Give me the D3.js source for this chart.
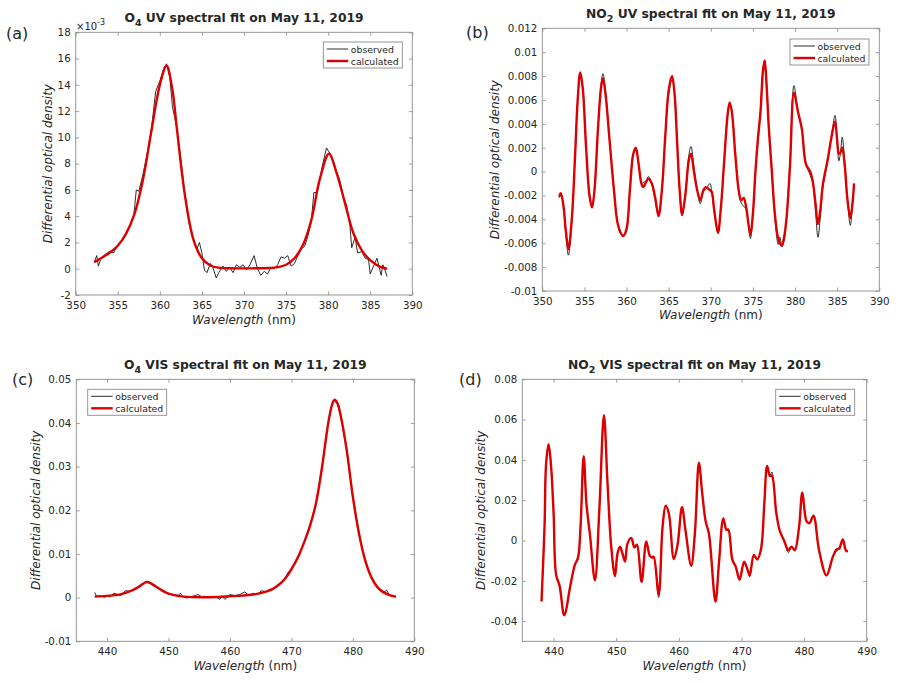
<!DOCTYPE html>
<html>
<head>
<meta charset="utf-8">
<script src="https://cdn.jsdelivr.net/npm/d3@7"></script>
<style>
  body { margin: 0; background: #fff; }
  svg text { font-family: "DejaVu Sans", sans-serif; fill: #262626; }
</style>
</head>
<body>
<svg id="fig" width="898" height="684"></svg>
<script>
// ---- (a) O4 UV, values in units of 1e-3 ----
const o4uvObsWl = [352.2,352.5,352.7,353.0,353.5,354.0,354.5,355.0,355.5,356.0,356.5,356.9,357.2,357.5,358.0,358.5,359.0,359.5,360.0,360.5,360.8,361.2,361.5,362.0,362.5,363.0,363.5,364.0,364.4,364.7,365.0,365.3,365.6,366.0,366.3,366.7,367.0,367.5,367.9,368.3,368.7,369.1,369.5,369.9,370.3,370.7,371.2,371.6,372.0,372.4,372.8,373.2,373.6,374.0,374.4,374.8,375.2,375.6,376.0,376.4,376.8,377.2,377.6,378.0,378.3,378.7,379.0,379.4,379.8,380.2,380.6,381.0,381.4,381.8,382.2,382.6,382.8,383.2,383.5,384.0,384.4,384.8,385.0,385.4,385.8,386.3,386.5,386.7,387.0];
const o4uvObs   = [0.5,1.0,0.2,0.8,1.1,1.3,1.2,1.8,2.1,2.6,3.3,4.0,6.0,5.9,7.2,8.8,10.6,13.5,14.3,15.3,15.6,14.5,12.3,10.8,8.3,5.5,3.4,2.2,1.5,2.0,1.2,-0.1,-0.3,0.4,0.1,-0.7,-0.3,0.2,-0.2,0.1,-0.3,0.3,0.1,0.3,-0.1,0.3,1.0,0.0,-0.5,-0.2,-0.4,0.1,0.0,0.3,0.9,0.8,1.0,0.2,0.4,1.0,1.5,1.7,2.5,3.6,5.8,5.8,6.8,8.1,9.2,8.8,8.1,7.4,6.7,5.5,4.8,3.2,1.6,2.4,1.2,1.3,0.8,0.7,-0.4,0.2,0.8,-0.5,0.3,0.0,-0.6];
const o4uvCalcWl = [352.2,353,354,355,356,357,358,359,360,360.8,361.5,362,363,364,365,366,367,369,371,373,374,375,376,377,378,379,380.1,381,382,383,384,385,386,387];
const o4uvCalc   = [0.5,0.8,1.2,1.75,2.7,4.2,6.8,10.5,14.0,15.45,13.6,10.8,5.5,2.2,0.8,0.25,0.08,0.03,0.03,0.06,0.12,0.3,0.8,1.8,3.7,6.8,8.75,7.3,5.0,2.7,1.4,0.65,0.2,0.0];

// ---- (b) NO2 UV, values in units of 1e-3 ----
const no2uvCalcWl = [352.0,352.2,352.5,352.8,353.1,353.5,353.9,354.2,354.5,354.8,355.2,355.6,355.9,356.2,356.6,357.0,357.2,357.5,358.0,358.5,359.0,359.6,360.0,360.4,360.8,361.1,361.4,361.8,362.0,362.3,362.6,363.0,363.4,363.8,364.2,364.6,365.0,365.4,365.7,366.0,366.3,366.6,367.0,367.4,367.65,368.0,368.4,368.75,369.1,369.4,369.8,370.1,370.4,370.85,371.2,371.6,372.0,372.24,372.5,372.9,373.3,373.6,373.9,374.2,374.7,375.0,375.3,375.6,375.9,376.2,376.4,376.6,376.9,377.2,377.6,378.0,378.4,378.7,379.0,379.4,379.87,380.35,380.8,381.3,381.8,382.1,382.4,382.72,383.0,383.3,383.9,384.3,384.75,385.0,385.2,385.4,385.6,385.9,386.2,386.56,386.8,387.0];
const no2uvCalc   = [-2.1,-1.8,-2.8,-5.0,-6.5,-4.0,1.5,6.0,8.3,7.0,2.0,-2.0,-3.0,-1.5,3.5,7.2,7.8,6.5,2.5,-1.5,-4.5,-5.4,-4.8,-1.5,1.5,2.0,0.8,-1.1,-1.3,-0.9,-0.6,-1.0,-2.2,-3.7,-1.5,3.0,6.8,8.0,6.5,2.5,-1.5,-3.6,-1.8,1.0,1.5,0.0,-1.6,-2.4,-1.6,-1.3,-1.5,-1.7,-3.2,-5.1,-3.0,1.0,4.8,5.8,5.0,1.5,-1.5,-2.4,-2.2,-3.0,-5.3,-3.5,0.0,2.8,5.0,8.5,9.3,7.5,3.5,0.5,-3.5,-5.6,-6.2,-5.5,-3.8,0.5,6.6,5.0,3.6,0.6,0.0,-0.8,-2.5,-4.4,-3.2,-1.1,1.1,2.8,4.2,2.6,1.5,1.6,2.0,0.5,-2.2,-3.9,-2.8,-1.0];
const no2uvObsWl = [352.0,352.2,352.5,352.8,353.1,353.5,353.9,354.2,354.5,354.8,355.2,355.6,355.9,356.2,356.6,357.0,357.2,357.5,358.0,358.5,359.0,359.3,359.7,360.0,360.4,360.8,361.1,361.4,361.8,362.0,362.3,362.6,363.0,363.4,363.8,364.2,364.6,365.0,365.4,365.7,366.0,366.3,366.6,367.0,367.4,367.65,368.0,368.4,368.75,369.1,369.4,369.9,370.1,370.4,370.85,371.2,371.6,372.0,372.24,372.5,372.9,373.3,373.6,373.9,374.2,374.7,375.0,375.3,375.6,375.9,376.2,376.4,376.6,376.9,377.2,377.6,378.0,378.2,378.45,378.7,379.0,379.4,379.87,380.35,380.8,381.3,381.8,382.1,382.4,382.72,383.0,383.3,383.9,384.3,384.75,385.0,385.2,385.4,385.6,385.9,386.2,386.56,386.8,387.0];
const no2uvObs   = [-2.2,-1.9,-3.0,-5.3,-7.0,-4.2,1.4,6.0,8.2,7.0,2.0,-2.0,-3.0,-1.5,3.5,7.5,8.2,6.8,2.5,-1.5,-4.6,-5.2,-5.3,-4.9,-1.6,1.5,2.0,0.8,-1.0,-0.9,-0.8,-0.4,-1.1,-2.4,-3.8,-1.5,3.0,6.5,7.7,6.6,2.5,-1.6,-3.7,-1.8,1.4,2.1,0.4,-1.6,-2.7,-1.7,-1.5,-1.0,-1.6,-3.3,-5.2,-3.0,1.0,4.8,5.7,5.0,1.5,-1.6,-2.6,-2.9,-3.2,-5.6,-3.5,0.0,2.5,5.2,8.7,9.3,7.6,3.5,0.3,-3.8,-6.1,-5.5,-6.3,-5.8,-3.8,0.8,7.2,5.0,3.6,0.6,-0.3,-1.0,-3.0,-5.5,-3.8,-1.3,1.0,2.9,4.7,2.4,0.9,1.6,2.9,0.8,-2.2,-4.5,-2.9,-1.0];

// ---- (c) O4 VIS ----
const o4visCalcWl = [438,440,442,444,445,446,446.5,447,448,449,450,452,455,458,460,462,464,466,467,468,469,470,471,472,473,474,475,476,476.6,477,477.5,478,479,480,481,482,483,484,485,486,487];
const o4visCalc   = [0.00023,0.0004,0.0007,0.0016,0.0023,0.0033,0.0036,0.0034,0.0025,0.0016,0.0009,0.0003,0.0001,0.00015,0.0003,0.00045,0.00075,0.00145,0.002,0.003,0.0044,0.0065,0.009,0.0124,0.0163,0.0216,0.030,0.040,0.0441,0.0453,0.0445,0.0418,0.0338,0.0231,0.0147,0.0086,0.0047,0.0024,0.0012,0.0006,0.0002];
const o4visObsWl = [438.0,438.3,438.8,439.6,440.2,440.4,441.1,441.8,442.3,443.0,443.7,444.3,445.0,445.9,446.4,447.1,447.8,448.85,449.2,449.9,450.75,451.6,451.9,452.4,452.9,453.7,454.8,455.2,455.6,456.7,457.8,458.35,458.6,459.2,460.0,460.8,461.6,462.4,463.0,463.8,464.6,465.1,466.0,467,468,469,469.5,470,471,472,473,474,475,476,476.6,477,477.5,478,479,480,481,481.5,482,482.4,483,484,484.5,485,485.5,486,486.4,487];
const o4visObs   = [0.0012,0.0003,0.0004,0.0001,0.0005,0.0001,0.0010,0.0007,0.0005,0.0016,0.0014,0.0019,0.0025,0.0031,0.0036,0.0031,0.0025,0.00175,0.0016,0.0010,0.0007,0.0005,0.0010,0.0002,-0.0001,0.0002,0.0007,0.0004,0.0000,0.0002,0.0001,-0.0004,0.0004,-0.0004,0.0007,0.0005,0.0007,0.0013,0.0006,0.0010,0.0008,0.0016,0.0013,0.0021,0.0029,0.0046,0.0058,0.0066,0.0093,0.0122,0.0166,0.0214,0.0302,0.040,0.0442,0.0452,0.0443,0.0418,0.0337,0.0232,0.0149,0.0110,0.0088,0.0068,0.0046,0.0023,0.0015,0.0012,0.0017,0.0005,0.0003,0.0002];

// ---- (d) NO2 VIS ----
const no2visCalcWl = [438.07,438.55,438.8,439.2,439.6,440.0,440.4,440.96,441.7,442.7,443.4,443.9,444.3,444.8,445.25,445.8,446.6,447.3,448.04,448.6,449.2,449.8,450.2,450.6,451.0,451.4,451.8,452.4,452.9,453.3,454.05,454.8,455.35,455.7,455.97,456.78,457.4,457.9,458.4,459.2,459.8,460.5,461.06,461.97,462.56,463.2,463.74,464.28,464.8,465.85,466.4,467.1,467.6,467.9,468.55,469.1,469.7,470.42,471.0,471.32,471.98,472.5,473.1,473.65,474.1,474.55,474.85,475.55,476.1,476.8,477.5,477.97,478.5,479.2,479.72,480.4,480.85,481.5,482.4,483.58,484.6,485.2,485.6,486.18,486.7,487.0];
const no2visCalc   = [-0.0301,0.0068,0.0380,0.0478,0.0366,0.0134,-0.0170,-0.0225,-0.0370,-0.0219,-0.0120,-0.0085,0.0068,0.0419,0.0180,0.0030,-0.0197,0.0150,0.0622,0.0290,-0.0030,-0.0176,-0.0065,-0.0030,-0.0065,-0.0104,-0.0015,0.0013,-0.0034,-0.0021,-0.0205,-0.0004,-0.0075,-0.0085,-0.0080,-0.0267,0.0068,0.0173,0.0134,-0.0092,-0.0020,0.0166,0.0051,-0.0125,0.0035,0.0386,0.0233,0.0095,0.0035,-0.0303,-0.0114,0.0109,0.0053,0.0055,-0.0096,-0.0131,-0.0194,-0.0105,-0.0147,-0.0173,-0.0071,-0.0094,-0.0046,0.0184,0.0370,0.0320,0.0322,0.0140,0.0050,0.0000,-0.0048,-0.0030,-0.0048,0.0068,0.0238,0.0095,0.0086,0.0123,-0.0050,-0.0173,-0.0080,-0.0044,-0.0040,0.0005,-0.0050,-0.0053];
const no2visObsWl = no2visCalcWl;
const no2visObs    = [-0.0303,0.0066,0.0379,0.0476,0.0364,0.0132,-0.0172,-0.0227,-0.0374,-0.0220,-0.0121,-0.0086,0.0066,0.0417,0.0179,0.0029,-0.0199,0.0149,0.0620,0.0289,-0.0031,-0.0178,-0.0066,-0.0028,-0.0066,-0.0106,-0.0016,0.0012,-0.0032,-0.0020,-0.0207,-0.0005,-0.0076,-0.0086,-0.0081,-0.0282,0.0067,0.0171,0.0133,-0.0093,-0.0021,0.0165,0.0050,-0.0127,0.0034,0.0384,0.0232,0.0094,0.0034,-0.0305,-0.0115,0.0107,0.0052,0.0054,-0.0097,-0.0132,-0.0196,-0.0106,-0.0149,-0.0180,-0.0072,-0.0095,-0.0047,0.0182,0.0368,0.0322,0.0340,0.0142,0.0049,-0.0001,-0.0060,-0.0032,-0.0049,0.0067,0.0236,0.0094,0.0085,0.0122,-0.0051,-0.0175,-0.0081,-0.0052,-0.0041,0.0004,-0.0051,-0.0054];

// ---- tick values ----
const uvWlTicks  = [350,355,360,365,370,375,380,385,390];
const visWlTicks = [440,450,460,470,480,490];
const o4uvTicks  = [-2,0,2,4,6,8,10,12,14,16,18];
const no2uvTicks = [-10,-8,-6,-4,-2,0,2,4,6,8,10,12];
const o4visTicks = [-0.01,0,0.01,0.02,0.03,0.04,0.05];
const no2visTicks = [-0.04,-0.02,0,0.02,0.04,0.06,0.08];

const svg = d3.select("#fig");
const GRID = "#8a8a8a";

function panel(p) {
  const x = d3.scaleLinear().domain(p.xDomain).range([p.l, p.r]);
  const y = d3.scaleLinear().domain(p.yDomain).range([p.b, p.t]);
  const g = svg.append("g");

  // axes (MATLAB style: ticks pointing inward on all four sides)
  const bottom = g.append("g").attr("transform", `translate(0,${p.b})`)
    .call(d3.axisBottom(x).tickValues(p.xTicks).tickSizeInner(-3.5).tickSizeOuter(0).tickPadding(6.5));
  const left = g.append("g").attr("transform", `translate(${p.l},0)`)
    .call(d3.axisLeft(y).tickValues(p.yTicks).tickFormat(p.yFmt).tickSizeInner(-3.5).tickSizeOuter(0).tickPadding(5));
  const top = g.append("g").attr("transform", `translate(0,${p.t})`)
    .call(d3.axisTop(x).tickValues(p.xTicks).tickFormat("").tickSizeInner(-3.5).tickSizeOuter(0));
  const right = g.append("g").attr("transform", `translate(${p.r},0)`)
    .call(d3.axisRight(y).tickValues(p.yTicks).tickFormat("").tickSizeInner(-3.5).tickSizeOuter(0));
  [bottom, left, top, right].forEach(a => {
    a.select(".domain").remove();
    a.selectAll(".tick line").attr("stroke", GRID).attr("stroke-width", 0.8);
    a.selectAll(".tick text").attr("font-family", "DejaVu Sans").attr("font-size", 10.3).attr("fill", "#333");
  });

  g.append("rect").attr("x", p.l).attr("y", p.t)
    .attr("width", p.r - p.l).attr("height", p.b - p.t)
    .attr("fill", "none").attr("stroke", GRID).attr("stroke-width", 0.9);

  // data
  const line = d3.line().x(d => x(d[0])).y(d => y(d[1]));
  const obs = p.obsWl.map((w, i) => [w, p.obs[i]]);
  const calc = p.calcWl.map((w, i) => [w, p.calc[i]]);
  g.append("path").datum(obs)
    .attr("d", line.curve(p.obsCurve)).attr("fill", "none")
    .attr("stroke", "#151515").attr("stroke-width", 0.9);
  g.append("path").datum(calc)
    .attr("d", line.curve(d3.curveCatmullRom.alpha(0.5))).attr("fill", "none")
    .attr("stroke", "#dd0000").attr("stroke-width", 2.4).attr("stroke-linejoin", "round");

  // title with subscript
  const cx = (p.l + p.r) / 2;
  const title = g.append("text").attr("x", cx).attr("y", p.titleY)
    .attr("text-anchor", "middle").attr("font-size", 12.3).attr("font-weight", "bold");
  title.append("tspan").text(p.species[0]);
  title.append("tspan").attr("dy", 4).attr("font-size", 9.5).text(p.species[1]);
  title.append("tspan").attr("dy", -4).text(" " + p.titleRest);

  // axis labels
  const xl = g.append("text").attr("x", cx).attr("y", p.xLabelY)
    .attr("text-anchor", "middle").attr("dominant-baseline", "central").attr("font-size", 12);
  xl.append("tspan").attr("font-style", "italic").text("Wavelength");
  xl.append("tspan").text(" (nm)");
  g.append("text")
    .attr("transform", `translate(${p.yLabelX},${(p.t + p.b) / 2}) rotate(-90)`)
    .attr("text-anchor", "middle").attr("dominant-baseline", "central")
    .attr("font-size", 12).attr("font-style", "italic")
    .text("Differential optical density");

  // panel letter
  g.append("text").attr("x", p.tagX).attr("y", p.tagY)
    .attr("font-family", "Open Sans").attr("font-size", 16).attr("fill", "#222")
    .attr("dominant-baseline", "central").text(p.tag);

  // legend
  const lg = g.append("g").attr("transform", `translate(${p.leg[0]},${p.leg[1]})`);
  lg.append("rect").attr("width", 79).attr("height", 26)
    .attr("fill", "#fff").attr("stroke", GRID).attr("stroke-width", 0.9);
  [["observed", "#151515", 0.9, 7], ["calculated", "#dd0000", 2.4, 19]].forEach(([name, col, w, yy]) => {
    lg.append("line").attr("x1", 3.5).attr("x2", 25).attr("y1", yy).attr("y2", yy)
      .attr("stroke", col).attr("stroke-width", w);
    lg.append("text").attr("x", 27.5).attr("y", yy).attr("dominant-baseline", "central")
      .attr("font-size", 9.3).text(name);
  });
  return { g, x, y };
}

const a = panel({
  l: 75.7, r: 412.3, t: 32.3, b: 295,
  xDomain: [350, 390], yDomain: [-2, 18], xTicks: uvWlTicks, yTicks: o4uvTicks, yFmt: d => d,
  obsWl: o4uvObsWl, obs: o4uvObs, calcWl: o4uvCalcWl, calc: o4uvCalc, obsCurve: d3.curveLinear,
  species: ["O", "4"], titleRest: "UV spectral fit on May 11, 2019", titleY: 21.7,
  xLabelY: 320, yLabelX: 48, tag: "(a)", tagX: 6, tagY: 33, leg: [323.3, 42]
});
// MATLAB exponent label
const ex = a.g.append("text").attr("x", 76).attr("y", 29.5).attr("font-size", 10).attr("fill", "#333");
ex.append("tspan").text("\u00d710");
ex.append("tspan").attr("dy", -5).attr("font-size", 8).text("-3");

panel({
  l: 542.3, r: 879.3, t: 28.3, b: 291,
  xDomain: [350, 390], yDomain: [-10, 12], xTicks: uvWlTicks, yTicks: no2uvTicks,
  yFmt: d => d === 0 ? "0" : String(+(d / 1000).toFixed(3)),
  obsWl: no2uvObsWl, obs: no2uvObs, calcWl: no2uvCalcWl, calc: no2uvCalc, obsCurve: d3.curveCatmullRom.alpha(0.5),
  species: ["NO", "2"], titleRest: "UV spectral fit on May 11, 2019", titleY: 18.3,
  xLabelY: 315.3, yLabelX: 495, tag: "(b)", tagX: 466, tagY: 32, leg: [790, 39]
});

panel({
  l: 76.3, r: 414.3, t: 379.3, b: 641.3,
  xDomain: [435, 490], yDomain: [-0.01, 0.05], xTicks: visWlTicks, yTicks: o4visTicks,
  yFmt: d => d === 0 ? "0" : d.toFixed(2),
  obsWl: o4visObsWl, obs: o4visObs, calcWl: o4visCalcWl, calc: o4visCalc, obsCurve: d3.curveLinear,
  species: ["O", "4"], titleRest: "VIS spectral fit on May 11, 2019", titleY: 369.3,
  xLabelY: 665.8, yLabelX: 35.8, tag: "(c)", tagX: 12, tagY: 379, leg: [87.7, 389.3]
});

panel({
  l: 522.3, r: 866.7, t: 379.3, b: 641.3,
  xDomain: [435, 490], yDomain: [-0.05, 0.08], xTicks: visWlTicks, yTicks: no2visTicks,
  yFmt: d => d === 0 ? "0" : d.toFixed(2),
  obsWl: no2visObsWl, obs: no2visObs, calcWl: no2visCalcWl, calc: no2visCalc, obsCurve: d3.curveCatmullRom.alpha(0.5),
  species: ["NO", "2"], titleRest: "VIS spectral fit on May 11, 2019", titleY: 369.3,
  xLabelY: 665.7, yLabelX: 480.7, tag: "(d)", tagX: 459, tagY: 379, leg: [775.7, 389.3]
});
</script>
</body>
</html>
